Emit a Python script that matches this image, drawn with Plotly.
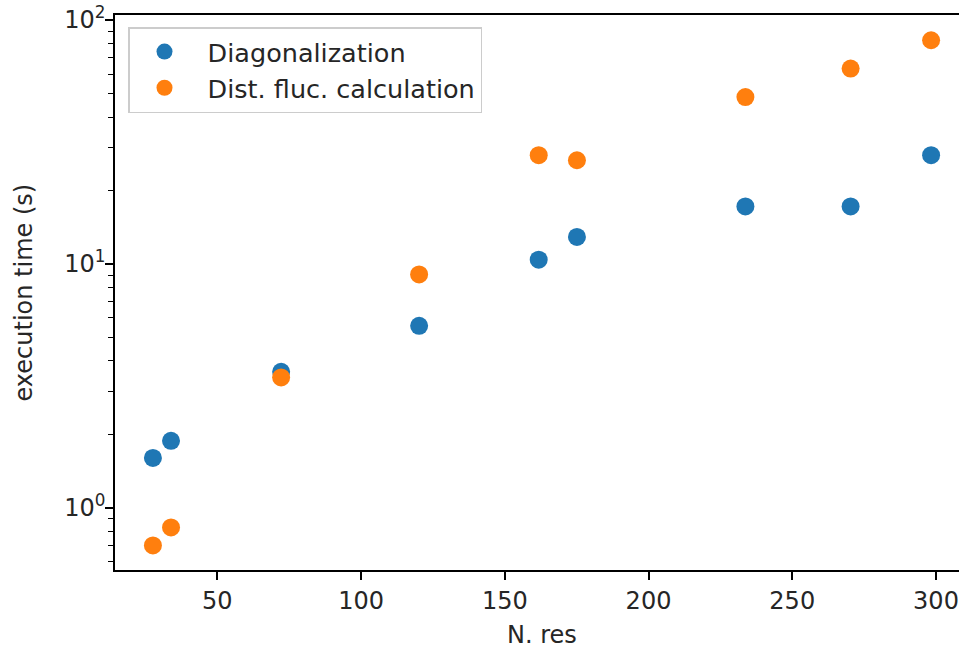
import plotly.graph_objects as go
import numpy as np

# Data
n_res = [27.6, 33.9, 72.2, 120.2, 161.8, 175.1, 233.7, 270.3, 298.3]
diag_time = [1.60, 1.88, 3.61, 5.57, 10.4, 12.9, 17.2, 17.2, 27.9]
fluc_time = [0.70, 0.83, 3.42, 9.05, 27.9, 26.6, 48.3, 63.2, 82.6]

series_names = ["Diagonalization", "Dist. fluc. calculation"]
series_colors = ["#1f77b4", "#ff7f0e"]

x_tickvals = [50, 100, 150, 200, 250, 300]
y_tickvals = [1, 10, 100]
y_ticktext = ["10<sup>0</sup>", "10<sup>1</sup>", "10<sup>2</sup>"]
y_minor = [m * d for d in (0.1, 1, 10) for m in range(2, 10)]

FONT = "DejaVu Sans"
FS = 24
LFS = 25.5

fig = go.Figure()
for name, ys, col, grp in zip(series_names, [diag_time, fluc_time], series_colors, ["a", "b"]):
    fig.add_trace(go.Scatter(
        x=n_res, y=ys, mode="markers", name="\u00a0" + name, legendgroup=grp,
        marker=dict(color=col, size=18, line=dict(width=0)),
    ))

W, H = 959, 651
L, R, T, B = 115, 0, 15, 81
pw = W - L - R
ph = H - T - B

fig.update_layout(
    width=W, height=H,
    margin=dict(l=L, r=R, t=T, b=B, pad=0),
    paper_bgcolor="white", plot_bgcolor="white",
    font=dict(family=FONT, size=FS, color="#262626"),
    showlegend=True,
    legend=dict(
        x=(128 - L) / pw, y=1 - (27 - T) / ph, xanchor="left", yanchor="top",
        bgcolor="rgba(255,255,255,0.8)", bordercolor="#cccccc", borderwidth=1.5,
        font=dict(family=FONT, size=LFS, color="#262626"),
        itemwidth=60, tracegroupgap=0,
    ),
    xaxis=dict(
        range=[14.41, 308.0], tickmode="array", tickvals=x_tickvals,
        showline=True, linecolor="black", linewidth=1.5, mirror=True,
        ticks="outside", ticklen=8, tickwidth=1.5, tickcolor="black",
        showgrid=False, zeroline=False,
        tickfont=dict(family=FONT, size=FS, color="#262626"),
    ),
    yaxis=dict(
        type="log", range=[-0.2555, 2.0205], tickmode="array",
        tickvals=y_tickvals, ticktext=y_ticktext,
        showline=True, linecolor="black", linewidth=1.5, mirror=False,
        ticks="outside", ticklen=8, tickwidth=1.5, tickcolor="black",
        showgrid=False, zeroline=False, ticklabelstandoff=-5,
        tickfont=dict(family=FONT, size=FS, color="#262626"),
        minor=dict(tickmode="array", tickvals=y_minor, ticks="outside",
                   ticklen=5, tickwidth=1.2, tickcolor="black", showgrid=False),
    ),
)

fig.add_annotation(
    text="N. res", xref="paper", yref="paper",
    x=(542 - L) / pw, y=-(635 - (H - B)) / ph,
    xanchor="center", yanchor="middle", showarrow=False,
    font=dict(family=FONT, size=FS, color="#262626"),
)
fig.add_annotation(
    text="execution time (s)", xref="paper", yref="paper",
    x=(23 - L) / pw, y=0.5, textangle=-90,
    xanchor="center", yanchor="middle", showarrow=False,
    font=dict(family=FONT, size=FS, color="#262626"),
)

fig.write_html("out.html")
